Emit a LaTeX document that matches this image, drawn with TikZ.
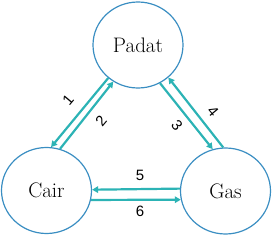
\documentclass[tikz,border=0pt]{standalone}
\usepackage{fontspec}
\newfontfamily\labelfont{Liberation Sans}
\usetikzlibrary{shapes.geometric,arrows.meta}
\definecolor{ringblue}{HTML}{3A8EC2}
\definecolor{flowteal}{HTML}{2CB3B5}
\begin{document}
\begin{tikzpicture}[x=1pt,y=-1pt,
  phase/.style={ellipse,draw=ringblue,line width=1.2pt,minimum width=90pt,minimum height=86pt,inner sep=0pt,font=\fontsize{21}{24}\selectfont},
  flow/.style={draw=flowteal,line width=2.2pt,-{Triangle[length=6pt,width=6.5pt]}},
  num/.style={font=\labelfont\fontsize{15}{17}\selectfont,inner sep=0pt}]
\useasboundingbox (0,0) rectangle (277,236);
\node[phase] (padat) at (138,45) {Padat};
\node[phase] (cair) at (46.5,190.5) {Cair};
\node[phase] (gas) at (225.5,191) {Gas};
\draw[flow] (padat.228) -- (cair.84);
\draw[flow] (cair.72) -- (padat.236);
\draw[flow] (padat.300) -- (gas.107);
\draw[flow] (gas.93) -- (padat.313);
\draw[flow] (gas.177) -- (cair.1);
\draw[flow] (cair.348) -- (gas.191);
\node[num,rotate=50] (n1) at (68,100) {1};
\node[num,rotate=50] (n2) at (101,121) {2};
\node[num,rotate=-50] (n3) at (177,125) {3};
\node[num,rotate=-50] (n4) at (213,111) {4};
\node[num] (n5) at (140,175) {5};
\node[num] (n6) at (140,211) {6};
\end{tikzpicture}
\end{document}
